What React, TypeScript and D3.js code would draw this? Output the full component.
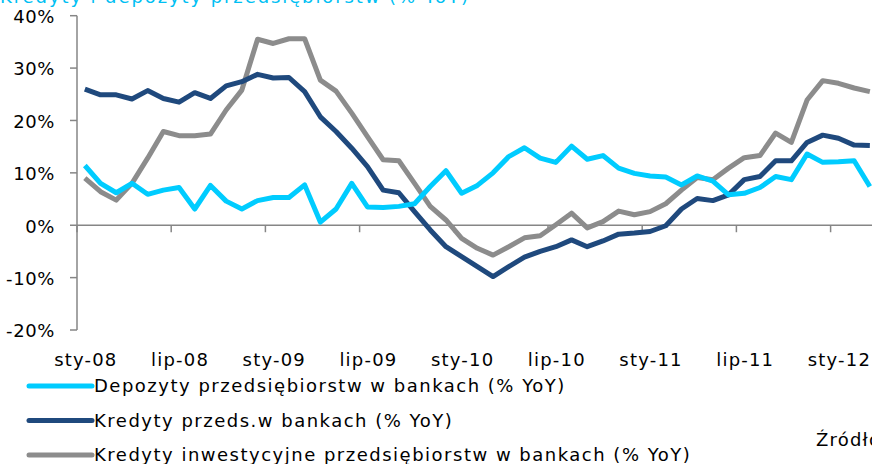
import React from 'react';
import * as d3 from 'd3';

// monthly data, sty-08 .. mar-12 (% YoY)
const monthNames = ['sty', 'lut', 'mar', 'kwi', 'maj', 'cze', 'lip', 'sie', 'wrz', 'paź', 'lis', 'gru'];
const months = d3.range(51).map(i => monthNames[i % 12] + '-' + String(8 + Math.floor(i / 12)).padStart(2, '0'));

const depozyty = [
  11.4, 8.0, 6.2, 8.0, 5.9, 6.7, 7.2, 3.1, 7.6, 4.6,
  3.1, 4.7, 5.3, 5.3, 7.7, 0.6, 3.1, 8.0, 3.5, 3.4,
  3.6, 4.1, 7.4, 10.4, 6.1, 7.6, 10.0, 13.1, 14.8, 12.8,
  12.0, 15.1, 12.6, 13.3, 10.9, 9.9, 9.4, 9.2, 7.7, 9.4,
  8.4, 5.8, 6.1, 7.2, 9.3, 8.7, 13.6, 12.0, 12.1, 12.3, 7.4
];
const kredyty = [
  26.0, 24.9, 24.9, 24.1, 25.7, 24.2, 23.5, 25.3, 24.2, 26.6,
  27.4, 28.8, 28.1, 28.2, 25.5, 20.7, 17.9, 14.7, 11.2, 6.7,
  6.2, 2.6, -0.9, -4.1, -6.0, -7.9, -9.8, -7.9, -6.1, -5.0,
  -4.1, -2.8, -4.1, -3.0, -1.7, -1.5, -1.2, -0.1, 3.1, 5.1,
  4.7, 5.8, 8.7, 9.3, 12.3, 12.3, 15.8, 17.2, 16.6, 15.3, 15.2
];
const inwestycyjne = [
  9.0, 6.4, 4.8, 8.0, 12.8, 17.9, 17.1, 17.1, 17.4, 22.0,
  25.8, 35.5, 34.7, 35.6, 35.6, 27.7, 25.6, 21.4, 16.9, 12.5,
  12.3, 8.0, 3.6, 1.0, -2.5, -4.4, -5.7, -4.1, -2.4, -2.0,
  0.1, 2.3, -0.5, 0.7, 2.7, 2.0, 2.6, 4.1, 6.7, 9.1,
  8.7, 10.9, 12.9, 13.3, 17.6, 15.8, 23.9, 27.6, 27.1, 26.2, 25.5
];

const yTicks = [40, 30, 20, 10, 0, -10, -20];
const seriesNames = [
  'Depozyty przedsiębiorstw w bankach (% YoY)',
  'Kredyty przeds.w bankach (% YoY)',
  'Kredyty inwestycyjne przedsiębiorstw w bankach (% YoY)'
];
const colors = ['#00CCFF', '#1F497D', '#8C8C8C'];

const font = "'DejaVu Sans', sans-serif";

const App = () => {
  const W = 872, H = 464;
  const x = d3.scaleBand<string>().domain(months).range([77, 77 + 51 * 15.7]).paddingInner(0).paddingOuter(0);
  const y = d3.scaleLinear().domain([-20, 40]).range([330, 15.7]);
  const cx = (m: string) => (x(m) as number) + x.bandwidth() / 2;

  const line = d3.line<number>()
    .x((d, i) => cx(months[i]))
    .y(d => y(d));

  const series = [depozyty, kredyty, inwestycyjne];
  // gray at the back, cyan on top
  const order = [2, 1, 0];
  const tickIdx = d3.range(0, months.length + 1, 6);

  return (
    <svg width={W} height={H} style={{position: 'absolute', left: 0, top: 0, background: '#fff'}}
      fontFamily={font}>
      <text x={0} y={3} fontSize={18} fill="#00BFF3" letterSpacing={1.9}>Kredyty i depozyty  przedsiębiorstw (% YoY)</text>

      {/* y axis */}
      <line x1={77} x2={77} y1={y(40)} y2={y(-20)} stroke="#868686" strokeWidth={1.5}/>
      {yTicks.map(t => (
        <g key={t}>
          <line x1={70} x2={77} y1={y(t)} y2={y(t)} stroke="#868686" strokeWidth={1.5}/>
          <text x={55} y={y(t) + 1} dy="0.35em" textAnchor="end" fontSize={18} letterSpacing={0.6} fill="#000">{t + '%'}</text>
        </g>
      ))}

      {/* x axis at 0 */}
      <line x1={77} x2={W} y1={y(0)} y2={y(0)} stroke="#868686" strokeWidth={1.5}/>
      {tickIdx.map(k => {
        const xx = k < months.length ? (x(months[k]) as number) : 77 + 51 * 15.7;
        return <line key={k} x1={xx} x2={xx} y1={y(0)} y2={y(0) + 7} stroke="#868686" strokeWidth={1.5}/>;
      })}
      {tickIdx.filter(k => k < months.length).map(k => (
        <text key={k} x={cx(months[k]) + 1} y={366} textAnchor="middle" fontSize={18} letterSpacing={1.2} fill="#000">{months[k]}</text>
      ))}

      {order.map(s => (
        <path key={s} d={line(series[s]) || ''} fill="none" stroke={colors[s]} strokeWidth={5}
          strokeLinejoin="round"/>
      ))}

      {/* legend */}
      {seriesNames.map((n, i) => (
        <g key={n} transform={`translate(0,${386 + i * 34.5})`}>
          <line x1={29} x2={92} y1={0} y2={0} stroke={colors[i]} strokeWidth={5} strokeLinecap="round"/>
          <text x={94} y={0} dy="0.35em" fontSize={18} letterSpacing={1.5} fill="#000">{n}</text>
        </g>
      ))}

      <text x={816} y={440} dy="0.35em" fontSize={18} letterSpacing={1.2} fill="#000">Źródło: NBP</text>
    </svg>
  );
};

export default App;
